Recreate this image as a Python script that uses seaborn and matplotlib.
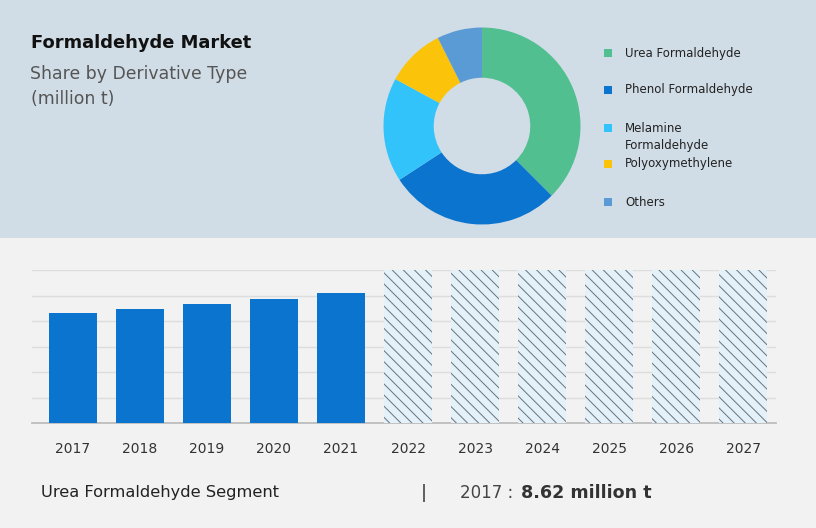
import matplotlib
matplotlib.use("Agg")
import matplotlib.pyplot as plt
from matplotlib.patches import Rectangle
import seaborn as sns
import pandas as pd

# donut data (share by derivative type)
segments = ["Urea Formaldehyde", "Phenol Formaldehyde", "Melamine\nFormaldehyde",
            "Polyoxymethylene", "Others"]
shares = [37.5, 28.3, 17.1, 9.7, 7.4]
seg_colors = ["#52bf90", "#0b74cf", "#33c3fb", "#fcc30b", "#5b9bd5"]

# bar data (million t), forecast years are placeholders drawn at full height
years = ["2017", "2018", "2019", "2020", "2021", "2022", "2023", "2024", "2025", "2026", "2027"]
volumes = [8.62, 8.93, 9.33, 9.72, 10.19, 12, 12, 12, 12, 12, 12]
n_actual = 5

W, H = 816, 528


def main():
    sns.set_theme(style="white")
    plt.rcParams["font.family"] = ["DejaVu Sans"]
    plt.rcParams["hatch.linewidth"] = 0.7

    fig = plt.figure(figsize=(W / 100, H / 100), dpi=100)
    fig.patch.set_facecolor("#f2f2f2")
    fig.patches.append(Rectangle((0, 1 - 238 / H), 1, 238 / H, transform=fig.transFigure,
                                 facecolor="#d1dde6", edgecolor="none", zorder=-1))

    # headings
    fig.text(31 / W, 1 - 43 / H, "Formaldehyde Market", fontsize=12.9, weight="bold",
             color="#111111", va="center")
    fig.text(30 / W, 1 - 74 / H, "Share by Derivative Type", fontsize=12.4,
             color="#555555", va="center")
    fig.text(31 / W, 1 - 99 / H, "(million t)", fontsize=12.4, color="#555555", va="center")

    plot_donut(fig)
    plot_bars(fig)

    # footer
    fig.text(41 / W, 1 - 493 / H, "Urea Formaldehyde Segment", fontsize=11.7,
             color="#222222", va="center")
    fig.text(421 / W, 1 - 493 / H, "|", fontsize=13, color="#333333", va="center")
    fig.text(460 / W, 1 - 493 / H, "2017 : ", fontsize=12, color="#444444", va="center")
    fig.text(521 / W, 1 - 493 / H, "8.62 million t", fontsize=12.6, weight="bold",
             color="#333333", va="center")

    fig.savefig("out.png", dpi=100, facecolor=fig.get_facecolor())
    plt.close(fig)


def plot_donut(fig):
    cx, cy, r = 482, 126, 98.5
    ax = fig.add_axes([(cx - r) / W, 1 - (cy + r) / H, 2 * r / W, 2 * r / H])
    ax.pie(shares, colors=seg_colors, startangle=90, counterclock=False, radius=1,
           wedgeprops=dict(width=0.51, edgecolor="none"))
    ax.set_xlim(-1, 1)
    ax.set_ylim(-1, 1)
    ax.axis("off")

    # legend
    legend_y = [53, 90, 137, 164, 202]
    marker_y = [53, 90, 128, 164, 202]
    for name, col, ty, my in zip(segments, seg_colors, legend_y, marker_y):
        fig.patches.append(Rectangle((604 / W, 1 - (my + 4) / H), 8 / W, 8 / H,
                                     transform=fig.transFigure, facecolor=col,
                                     edgecolor="none"))
        fig.text(625 / W, 1 - ty / H, name, fontsize=8.5, color="#222222", va="center",
                 linespacing=1.45)


def plot_bars(fig):
    ax = fig.add_axes([32 / W, 1 - 423 / H, (776 - 32) / W, (423 - 270) / H])
    ax.set_facecolor("none")
    df = pd.DataFrame({"year": years, "volume": volumes})
    colors = ["#0b74cf"] * n_actual + ["#e4f1f9"] * (len(years) - n_actual)
    sns.barplot(data=df, x="year", y="volume", hue="year", palette=colors, legend=False,
                width=0.72, saturation=1, ax=ax, zorder=3, linewidth=0)
    for i, p in enumerate(ax.patches):
        p.set_linewidth(0)
        if i >= n_actual:
            p.set_hatch("\\\\\\")
            p.set_edgecolor("#66727c")

    ax.set_xlim(-0.61, 10.49)
    ax.set_ylim(0, 12)
    ax.set_yticks(range(0, 13, 2))
    ax.yaxis.grid(True, color="#dddddd", linewidth=1, zorder=0)
    ax.set_axisbelow(True)
    ax.tick_params(axis="y", left=False, labelleft=False)
    ax.tick_params(axis="x", bottom=False, labelsize=10, colors="#333333", pad=8)
    ax.set_xlabel("")
    ax.set_ylabel("")
    for s in ["top", "right", "left"]:
        ax.spines[s].set_visible(False)
    ax.spines["bottom"].set_color("#bbbbbb")


if __name__ == "__main__":
    main()
